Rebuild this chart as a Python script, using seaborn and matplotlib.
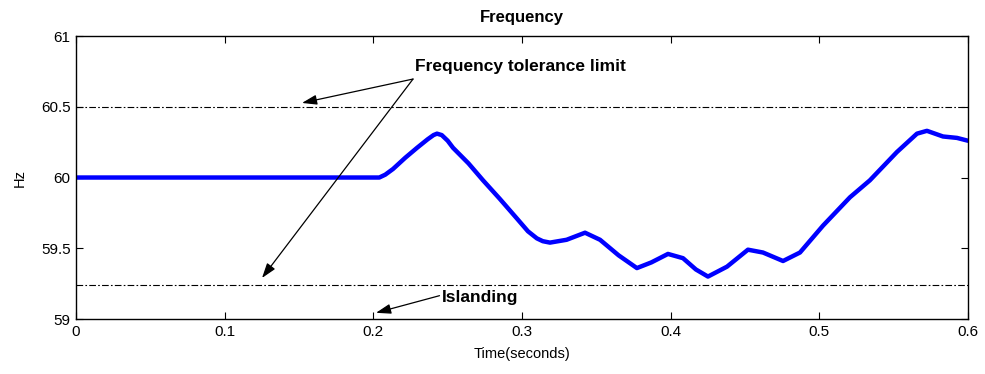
import matplotlib
matplotlib.use("Agg")
import matplotlib.pyplot as plt
import seaborn as sns
import pandas as pd

# Data
time_s = [0.0, 0.10, 0.200, 0.204, 0.208, 0.2132, 0.2215, 0.2294, 0.2365, 0.2405, 0.2428, 0.2460,
          0.2500, 0.2536, 0.2640, 0.2738, 0.2850, 0.2966, 0.3040, 0.3100, 0.3140, 0.3188, 0.3300,
          0.3424, 0.3525, 0.3650, 0.3773, 0.3870, 0.3982, 0.4083, 0.4170, 0.4251,
          0.4379, 0.4520, 0.4621, 0.4756, 0.4870, 0.5025, 0.5206, 0.5340, 0.5522,
          0.5657, 0.5724, 0.5832, 0.5926, 0.6000]
freq_hz = [60.0, 60.0, 60.0, 60.0, 60.02, 60.06, 60.14, 60.21, 60.27, 60.30, 60.31, 60.30,
           60.26, 60.21, 60.10, 59.98, 59.85, 59.71, 59.62, 59.57, 59.55, 59.54, 59.56,
           59.61, 59.56, 59.45, 59.36, 59.40, 59.46, 59.43, 59.35, 59.30,
           59.37, 59.49, 59.47, 59.41, 59.47, 59.66, 59.86, 59.98, 60.18,
           60.31, 60.33, 60.29, 60.28, 60.26]
limits_hz = [60.5, 59.24]
x_ticks = [0, 0.1, 0.2, 0.3, 0.4, 0.5, 0.6]
x_tick_labels = ["0", "0.1", "0.2", "0.3", "0.4", "0.5", "0.6"]
y_ticks = [59, 59.5, 60, 60.5, 61]
y_tick_labels = ["59", "59.5", "60", "60.5", "61"]

sns.set_style("ticks")
plt.rcParams["font.family"] = ["Liberation Sans", "DejaVu Sans"]
plt.rcParams["xtick.direction"] = "in"
plt.rcParams["ytick.direction"] = "in"
plt.rcParams["text.color"] = "black"
plt.rcParams["axes.labelcolor"] = "black"
plt.rcParams["xtick.color"] = "black"
plt.rcParams["ytick.color"] = "black"
plt.rcParams["xtick.labelcolor"] = "black"
plt.rcParams["ytick.labelcolor"] = "black"

fig = plt.figure(figsize=(9.85, 3.74), dpi=100)
ax = fig.add_axes([0.0772, 0.147, 0.9055, 0.7567])

df = pd.DataFrame({"Time": time_s, "Freq": freq_hz})
sns.lineplot(data=df, x="Time", y="Freq", ax=ax, color="#0000ff", linewidth=3.2,
             solid_capstyle="round", solid_joinstyle="round")

for lim in limits_hz:
    ax.axhline(lim, color="black", linewidth=0.8, linestyle=(0, (6, 2, 1.5, 2)))

ax.set_xlim(0, 0.6)
ax.set_ylim(59, 61)
ax.set_xticks(x_ticks)
ax.set_xticklabels(x_tick_labels)
ax.set_yticks(y_ticks)
ax.set_yticklabels(y_tick_labels)
ax.tick_params(axis="both", which="both", top=True, right=True, length=5,
               width=0.8, labelsize=11, pad=4, color="black", labelcolor="black")
for sp in ax.spines.values():
    sp.set_visible(True)
    sp.set_linewidth(1.0)
    sp.set_color("black")

ax.set_title("Frequency", fontsize=12, fontweight="bold", pad=10, color="black")
ax.set_xlabel("Time(seconds)", fontsize=10.5, labelpad=6, color="black")
ax.set_ylabel("Hz", fontsize=10.5, labelpad=10, color="black")

arrow_kw = dict(arrowstyle="-|>,head_length=0.9,head_width=0.3", color="black",
                lw=0.9, shrinkA=0, shrinkB=0)
ax.text(0.228, 60.788, "Frequency tolerance limit", fontsize=12.5, fontweight="bold",
        ha="left", va="center", color="black")
ax.annotate("", xy=(0.152, 60.527), xytext=(0.2267, 60.696), arrowprops=arrow_kw)
ax.annotate("", xy=(0.1251, 59.29), xytext=(0.2267, 60.696), arrowprops=arrow_kw)
ax.text(0.2462, 59.152, "Islanding", fontsize=12.5, fontweight="bold",
        ha="left", va="center", color="black")
ax.annotate("", xy=(0.2018, 59.044), xytext=(0.2445, 59.165), arrowprops=arrow_kw)

fig.savefig("out.png", dpi=100)
